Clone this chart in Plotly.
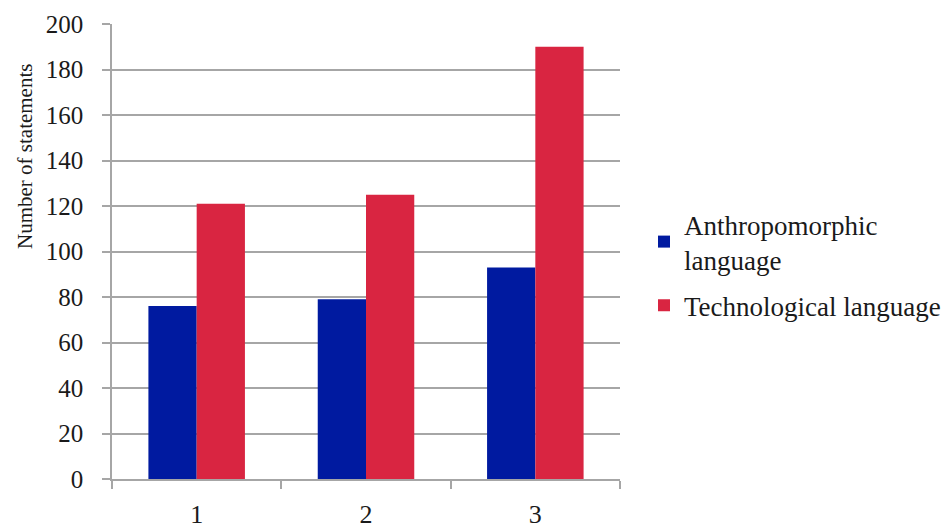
import plotly.graph_objects as go

categories = ["1", "2", "3"]
anthropomorphic = [76, 79, 93]
technological = [121, 125, 190]
series_names = ["Anthropomorphic<br>language", "Technological language"]
y_ticks = [0, 20, 40, 60, 80, 100, 120, 140, 160, 180, 200]

FONT = "Liberation Serif"
GRID = "#a6a6a6"
TXT = "#1a1a1a"

W, H = 943, 523  # page body has an 8px margin in the browser

fig = go.Figure()
fig.add_trace(go.Bar(x=categories, y=anthropomorphic, name=series_names[0],
                     legendgroup="a",
                     marker=dict(color="#001AA0", line=dict(width=0))))
fig.add_trace(go.Bar(x=categories, y=technological, name=series_names[1],
                     legendgroup="b",
                     marker=dict(color="#D92541", line=dict(width=0))))

fig.update_layout(
    width=W, height=H,
    margin=dict(l=104, r=331, t=16, b=52, autoexpand=False),
    paper_bgcolor="white", plot_bgcolor="white",
    barmode="group", bargap=0.43, bargroupgap=0,
    font=dict(family=FONT, size=26, color=TXT),
    showlegend=True,
    legend=dict(xref="container", yref="container", x=636 / W, y=1 - 192 / H,
                xanchor="left", yanchor="top",
                font=dict(family=FONT, size=27, color=TXT),
                tracegroupgap=8, itemwidth=30, bgcolor="rgba(0,0,0,0)"),
    xaxis=dict(type="category", showgrid=False, showline=True, linecolor=GRID,
               linewidth=1.5, ticks="outside", ticklen=8, tickcolor=GRID,
               tickwidth=1.5, tickson="boundaries", ticklabelstandoff=11,
               tickfont=dict(family=FONT, size=26, color=TXT),
               zeroline=False, automargin=False, ticklabeloverflow="allow"),
    yaxis=dict(range=[0, 200], tickvals=y_ticks, showgrid=True, gridcolor=GRID,
               gridwidth=1.5, showline=True, linecolor=GRID, linewidth=1.5,
               ticks="outside", ticklen=8, tickcolor=GRID, tickwidth=1.5,
               ticklabelstandoff=14, zeroline=False, automargin=False,
               ticklabeloverflow="allow",
               tickfont=dict(family=FONT, size=25, color=TXT)),
    annotations=[dict(text="Number of statements", xref="paper", yref="paper",
                      x=(17 - 104) / 508, y=(471 - 149) / 455, textangle=-90,
                      showarrow=False,
                      font=dict(family=FONT, size=21, color=TXT),
                      xanchor="center", yanchor="middle")],
)

fig.write_html("out.html")
